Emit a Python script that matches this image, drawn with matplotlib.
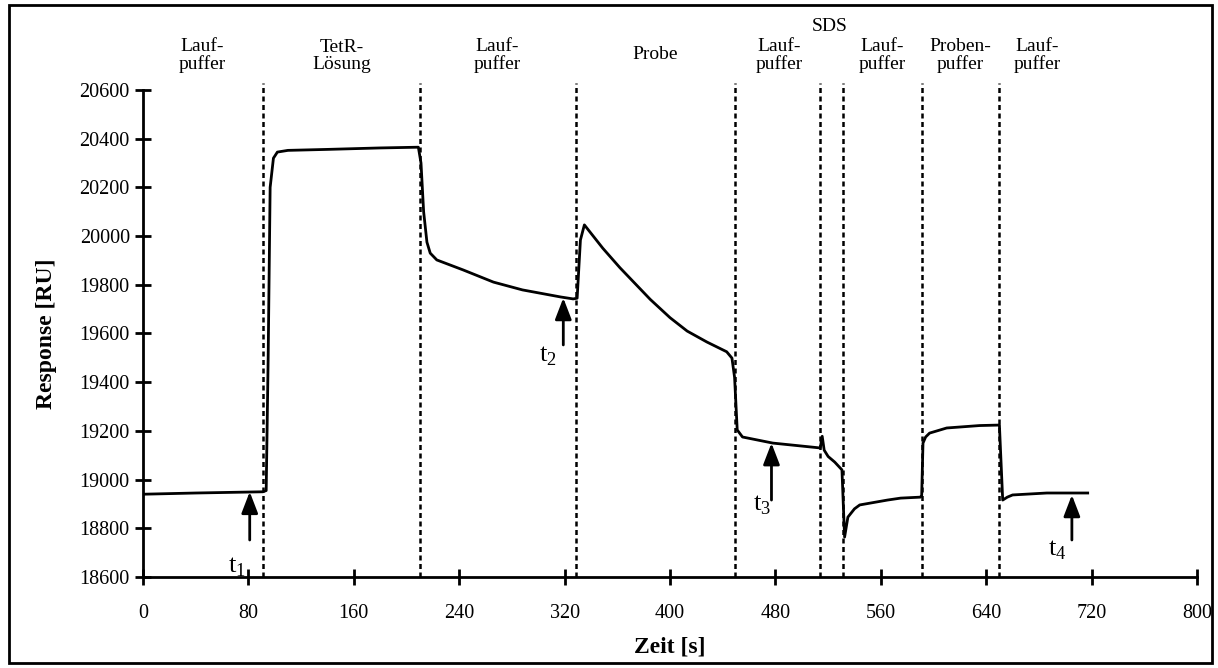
import matplotlib.pyplot as plt
from matplotlib.patches import Rectangle

plt.rcParams['font.family'] = ['Liberation Serif', 'DejaVu Serif']
plt.rcParams['mathtext.fontset'] = 'custom'
plt.rcParams['mathtext.rm'] = 'Liberation Serif'

# Sensorgramm (Zeit [s], Response [RU])
zeit = [0, 40, 91, 93.5, 95, 96.5, 99, 102, 110, 140, 180, 209, 211, 213, 215.5,
        218, 223, 243, 266, 288, 317, 326.5, 329.5, 332, 335, 349, 362, 385,
        400, 413, 428, 443, 447, 449, 451, 455, 478, 514, 515.5, 517, 520, 525,
        530.5, 531.5, 532.5, 535, 540, 544, 565, 575, 590, 591, 592, 594, 597,
        610, 635, 650, 651, 652.5, 656, 660, 686, 717]
response = [18940, 18945, 18950, 18955, 19500, 20200, 20320, 20345, 20352, 20356,
            20362, 20365, 20300, 20100, 19975, 19930, 19902, 19861, 19811, 19779,
            19750, 19742, 19745, 19984, 20046, 19950, 19870, 19740, 19665, 19610,
            19565, 19525, 19499, 19420, 19204, 19175, 19150, 19130, 19178, 19121,
            19095, 19072, 19040, 18900, 18764, 18846, 18880, 18896, 18916, 18924,
            18928, 18935, 19150, 19175, 19191, 19212, 19222, 19224, 19100, 18916,
            18928, 18937, 18945, 18945]

# Wechsel der Lösungen
grenzen = [91, 210, 329, 449, 514, 531, 591, 650]

# Beschriftung der Phasen
phasen = ["Lauf-\npuffer", "TetR-\nLösung", "Lauf-\npuffer", "Probe", "Lauf-\npuffer",
          "SDS", "Lauf-\npuffer", "Proben-\npuffer", "Lauf-\npuffer"]
phasen_x = [45, 151, 269, 389, 483, 521, 561, 620, 679]
phasen_y = [20740, 20740, 20740, 20745, 20740, 20860, 20740, 20740, 20740]

# Markierte Zeitpunkte: Pfeilspitze, Pfeilende, Beschriftung
marken = ["t$_1$", "t$_2$", "t$_3$", "t$_4$"]
marken_x = [81, 319, 477, 705]
spitze_y = [18950, 19746, 19150, 18937]
ende_y = [18752, 19553, 18916, 18752]
text_x = [71, 307, 470, 694]
text_y = [18640, 19505, 18895, 18710]

fig = plt.figure(figsize=(12.18, 6.68), dpi=100)
ax = fig.add_axes([0.1174, 0.1362, 0.8654, 0.7291])

ax.plot(zeit, response, color='black', lw=2)

for g in grenzen:
    ax.plot([g, g], [18600, 20630], color='black', lw=1.8,
            linestyle=(0, (2, 1.4)), clip_on=False)

for i in range(len(phasen)):
    ax.text(phasen_x[i], phasen_y[i], phasen[i], ha='center', va='center',
            fontsize=14, linespacing=1.0)

for i in range(len(marken)):
    ax.annotate('', xy=(marken_x[i], spitze_y[i]), xytext=(marken_x[i], ende_y[i]),
                arrowprops=dict(arrowstyle='-|>,head_length=1.3,head_width=0.5',
                                color='black', lw=2, shrinkA=0, shrinkB=0))
    ax.text(text_x[i], text_y[i], marken[i], ha='center', va='center', fontsize=19)

ax.set_xlim(0, 800)
ax.set_ylim(18600, 20600)
ax.set_xticks(range(0, 801, 80))
ax.set_yticks(range(18600, 20601, 200))
ax.set_xlabel("Zeit [s]", fontsize=17, fontweight='bold', labelpad=10)
ax.set_ylabel("Response [RU]", fontsize=17, fontweight='bold', labelpad=16)
ax.spines['top'].set_visible(False)
ax.spines['right'].set_visible(False)
ax.spines['left'].set_linewidth(2)
ax.spines['bottom'].set_linewidth(2)
ax.tick_params(direction='inout', length=11, width=2, labelsize=14.5)
ax.tick_params(axis='x', pad=14)
ax.tick_params(axis='y', pad=4)

fig.patches.append(Rectangle((0.007, 0.008), 0.988, 0.984, transform=fig.transFigure,
                             fill=False, edgecolor='black', lw=2))

fig.savefig("out.png", dpi=100)
